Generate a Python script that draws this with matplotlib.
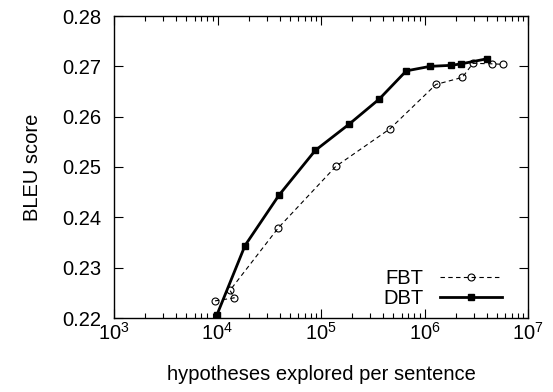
import numpy as np
import matplotlib
matplotlib.use("Agg")
import matplotlib.pyplot as plt
from matplotlib.ticker import LogLocator, MultipleLocator, NullFormatter, FormatStrFormatter

plt.rcParams['font.family'] = ['Liberation Sans', 'DejaVu Sans']
plt.rcParams['mathtext.default'] = 'regular'

# FBT: open circles, thin dashed line
fbt_x = [9460, 14530, 13210, 38650, 138700, 464500, 1290000, 2320000, 2940000, 4460000, 5730000]
fbt_y = [0.2234, 0.2240, 0.2255, 0.2379, 0.2501, 0.2576, 0.2664, 0.2678, 0.2706, 0.2705, 0.2704]

# DBT: filled squares, thick solid line
dbt_x = [9820, 18450, 39260, 88100, 186700, 365600, 666800, 1137000, 1815000, 2270000, 4020000]
dbt_y = [0.2205, 0.2344, 0.2444, 0.2533, 0.2585, 0.2635, 0.2691, 0.2700, 0.2702, 0.2705, 0.2715]

fig = plt.figure(figsize=(5.53, 3.92), dpi=100)
ax = fig.add_axes([114/553, 1-318/392, 414/553, 302/392])

ax.plot(fbt_x, fbt_y, color='black', lw=0.8, ls=(0, (4, 3)), marker='o',
        ms=5, mfc='none', mew=0.8, label='FBT')
ax.plot(dbt_x, dbt_y, color='black', lw=2, ls='-', marker='s',
        ms=5, label='DBT')

ax.set_xscale('log')
ax.set_xlim(1e3, 1e7)
ax.set_ylim(0.22, 0.28)
ax.xaxis.set_major_locator(LogLocator(base=10, numticks=10))
ax.xaxis.set_minor_locator(LogLocator(base=10, subs=np.arange(2, 10), numticks=10))
ax.xaxis.set_minor_formatter(NullFormatter())
ax.yaxis.set_major_locator(MultipleLocator(0.01))
ax.yaxis.set_major_formatter(FormatStrFormatter('%.2f'))

ax.tick_params(which='both', direction='in', top=True, right=True, labelsize=14.5)
ax.tick_params(which='major', length=6.5, width=0.8)
ax.tick_params(which='minor', length=3.3, width=0.8)
ax.tick_params(axis='y', pad=9)
ax.tick_params(axis='x', pad=3)
for s in ax.spines.values():
    s.set_linewidth(1)

ax.set_xlabel('hypotheses explored per sentence', fontsize=14.5)
ax.set_ylabel('BLEU score', fontsize=14.5)
ax.xaxis.set_label_coords(0.5, -0.155)
ax.yaxis.set_label_coords(-0.175, 0.5)

ax.legend(loc='lower right', bbox_to_anchor=(388/414, 10/302), frameon=False,
          markerfirst=False, fontsize=14.5, handlelength=3.1, borderpad=0,
          borderaxespad=0, labelspacing=0.05, handletextpad=0.8)

plt.savefig('out.png', dpi=100)
